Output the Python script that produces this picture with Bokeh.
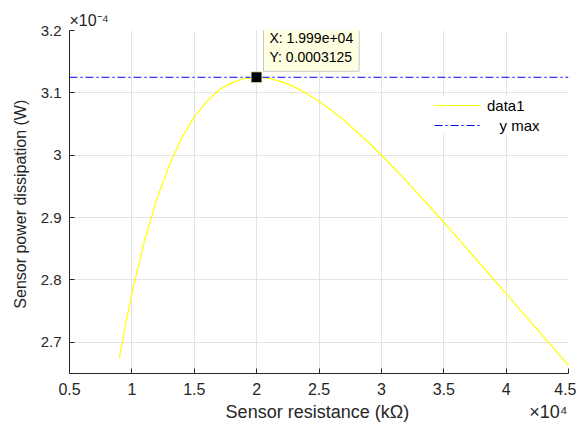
from bokeh.plotting import figure
from bokeh.models import (Range1d, FixedTicker, Label, Legend, LegendItem, Title)
from bokeh.embed import file_html
from bokeh.resources import INLINE

# Sensor resistance (x 1e4 Ohm) and power dissipation (x 1e-4 W)
r_vals = [0.90, 0.95, 1.00, 1.10, 1.20, 1.30, 1.40, 1.50, 1.60, 1.70, 1.80, 1.90,
          2.00, 2.10, 2.20, 2.30, 2.40, 2.50, 2.60, 2.70, 2.80, 2.90, 3.00, 3.20,
          3.40, 3.60, 3.80, 4.00, 4.20, 4.40, 4.50]
p_vals = [2.675, 2.729, 2.778, 2.862, 2.930, 2.984, 3.028, 3.061, 3.086, 3.105,
          3.116, 3.123, 3.125, 3.123, 3.118, 3.110, 3.099, 3.086, 3.072, 3.056,
          3.038, 3.020, 3.000, 2.959, 2.915, 2.870, 2.824, 2.778, 2.732, 2.686,
          2.663]
y_max = 3.125
tip_x = 1.999
tip_y = 3.125
tip_text = "X: 1.999e+04\nY: 0.0003125"
x_ticks = [0.5, 1, 1.5, 2, 2.5, 3, 3.5, 4, 4.5]
x_tick_labels = ["0.5", "1", "1.5", "2", "2.5", "3", "3.5", "4", "4.5"]
y_ticks = [2.7, 2.8, 2.9, 3.0, 3.1, 3.2]
y_tick_labels = ["2.7", "2.8", "2.9", "3", "3.1", "3.2"]
y_bottom = 2.65
x_label = "Sensor resistance (k\u03a9)"
x_mult = "\u00d710\u2074"
y_label = "Sensor power dissipation  (W)"
y_mult = "\u00d710\u207b\u2074"

FONT = "Liberation Sans"
DARK = "#262626"
NB = "\u00a0"

W, H = 576, 426
BL, BR, BT, BB = 69, 8, 30, 53

p = figure(width=W, height=H, output_backend="svg", toolbar_location=None,
           x_range=Range1d(x_ticks[0], x_ticks[-1]), y_range=Range1d(y_bottom, y_ticks[-1]),
           min_border_left=BL, min_border_right=BR, min_border_top=BT,
           min_border_bottom=BB)
p.outline_line_color = None
p.background_fill_color = "white"

for ax, ticks, labels in ((p.xaxis[0], x_ticks, x_tick_labels),
                          (p.yaxis[0], y_ticks, y_tick_labels)):
    ax.ticker = FixedTicker(ticks=ticks)
    ax.major_label_overrides = {t: l for t, l in zip(ticks, labels)}
    ax.major_tick_in = 5
    ax.major_tick_out = 0
    ax.minor_tick_line_color = None
    ax.axis_line_color = DARK
    ax.major_tick_line_color = DARK
    ax.major_label_text_color = DARK
    ax.major_label_text_font = FONT
    ax.axis_label_text_font = FONT
    ax.axis_label_text_font_style = "normal"
    ax.axis_label_text_color = DARK

p.xaxis.major_label_text_font_size = "16px"
p.yaxis.major_label_text_font_size = "15px"
p.xaxis.axis_label_text_font_size = "18px"
p.yaxis.axis_label_text_font_size = "16px"
# x label centred on the axis, the x10^4 multiplier pushed to the right end
p.xaxis.axis_label = NB * 31 + x_label + NB * 24 + x_mult
p.yaxis.axis_label = y_label
p.xaxis.major_label_standoff = 9
p.yaxis.major_label_standoff = 8
p.xaxis.axis_label_standoff = 4
p.yaxis.axis_label_standoff = 9

p.add_layout(Title(text=y_mult, align="left", text_font=FONT, text_font_size="16px",
                   text_font_style="normal", text_color=DARK, standoff=3), "above")

p.xgrid.ticker = FixedTicker(ticks=x_ticks)
p.ygrid.ticker = FixedTicker(ticks=y_ticks)
p.grid.grid_line_color = "#e3e3e3"
p.grid.grid_line_width = 1

curve = p.line(r_vals, p_vals, line_color="#FFFF00", line_width=1.2)
ymax_line = p.line([x_ticks[0], x_ticks[-1]], [y_max, y_max], line_color="#0000FF",
                   line_width=1, line_dash="8 3 2 3")

p.scatter([tip_x], [tip_y], marker="square", size=11, fill_color="black",
          line_color="#f3f3c8", line_width=1)

tip = Label(x=tip_x, y=tip_y, x_offset=7, y_offset=6, text=tip_text,
            text_font=FONT, text_font_size="14px", text_color="black",
            text_align="left", text_baseline="bottom",
            background_fill_color="#FFFFE1", border_line_color="#c8c8c8",
            border_line_width=1, padding=6, text_line_height=1.2)
p.add_layout(tip)

legend = Legend(items=[LegendItem(label="data1", renderers=[curve]),
                       LegendItem(label=NB * 3 + "y max", renderers=[ymax_line])],
                location=(365, 239), background_fill_color="white",
                background_fill_alpha=1.0, border_line_color=None,
                label_text_font=FONT, label_text_font_size="15px",
                label_text_color="black", glyph_width=47, glyph_height=16,
                label_height=18, spacing=2, padding=5, margin=0,
                label_standoff=6)
p.add_layout(legend)

open("out.html", "w").write(file_html(p, INLINE))
